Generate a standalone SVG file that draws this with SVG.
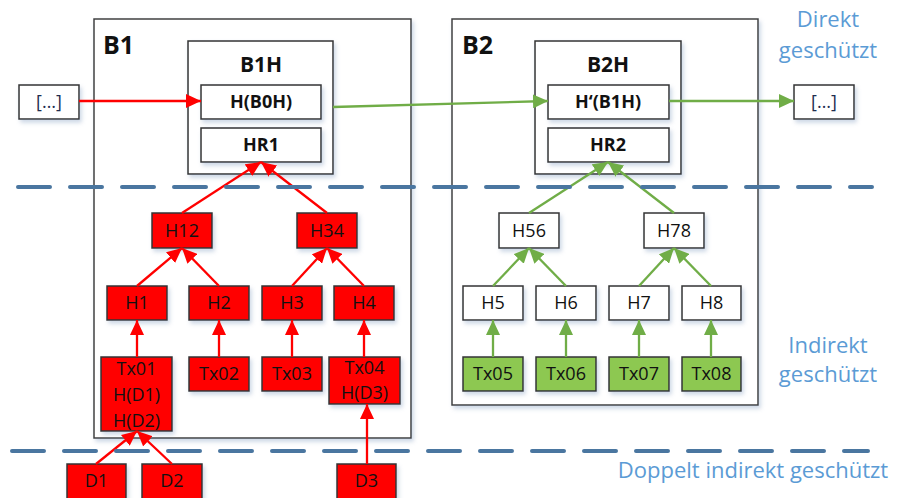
<svg xmlns="http://www.w3.org/2000/svg" width="897" height="498" viewBox="0 0 897 498">
  <defs>
    <filter id="shadow" x="-20%" y="-20%" width="150%" height="160%">
      <feDropShadow dx="2" dy="3" stdDeviation="2" flood-color="#8fa8c8" flood-opacity="0.45"/>
    </filter>
    <marker id="arrowRed" markerUnits="userSpaceOnUse" markerWidth="15" markerHeight="14" refX="15" refY="7" orient="auto">
      <path d="M0,0 L15,7 L0,14 z" fill="#ff0000"/>
    </marker>
    <marker id="arrowGreen" markerUnits="userSpaceOnUse" markerWidth="15" markerHeight="14" refX="15" refY="7" orient="auto">
      <path d="M0,0 L15,7 L0,14 z" fill="#70ad47"/>
    </marker>
  </defs>
  <style>
    text { font-family: "Open Sans", "Liberation Sans", sans-serif; text-anchor: middle; fill: #111; }
    .block { fill: #fff; stroke: #404040; stroke-width: 1.5; filter: url(#shadow); }
    .box { fill: #fff; stroke: #333; stroke-width: 1.5; filter: url(#shadow); }
    .red { fill: #ff0000; stroke: #333; stroke-width: 1.5; filter: url(#shadow); }
    .green { fill: #8dc851; stroke: #333; stroke-width: 1.5; filter: url(#shadow); }
    .lbl { font-size: 18px; }
    .bold { font-size: 18px; font-weight: 700; }
    .head { font-size: 21px; font-weight: 700; }
    .big { font-size: 25px; font-weight: 700; text-anchor: start; }
    .ell { font-size: 18px; fill: #1f2d50; }
    .zone { font-size: 22px; fill: #5b9bd5; }
    .sep { stroke: #4a76a0; stroke-width: 4; stroke-dasharray: 32 20; stroke-linecap: round; fill: none; }
    .cr { stroke: #ff0000; stroke-width: 2.3; fill: none; marker-end: url(#arrowRed); }
    .cg { stroke: #70ad47; stroke-width: 2.3; fill: none; marker-end: url(#arrowGreen); }
  </style>

  <rect width="897" height="498" fill="#fff"/>

  <!-- blocks -->
  <g id="B1">
    <rect class="block" x="94" y="19" width="317" height="419"/>
    <text class="big" x="103" y="54">B1</text>
  </g>
  <g id="B2">
    <rect class="block" x="452" y="19" width="306" height="386"/>
    <text class="big" x="462" y="54">B2</text>
  </g>

  <!-- block headers -->
  <g id="B1H">
    <rect class="box" x="188" y="41" width="145" height="133"/>
    <text class="head" x="261" y="72">B1H</text>
  </g>
  <g id="H_B0H">
    <rect class="box" x="201" y="85" width="120" height="34"/>
    <text class="bold" x="261" y="108">H(B0H)</text>
  </g>
  <g id="HR1">
    <rect class="box" x="201" y="128" width="120" height="34"/>
    <text class="bold" x="261" y="151">HR1</text>
  </g>
  <g id="B2H">
    <rect class="box" x="535" y="41" width="146" height="133"/>
    <text class="head" x="608" y="72">B2H</text>
  </g>
  <g id="H_B1H">
    <rect class="box" x="548" y="85" width="121" height="34"/>
    <text class="bold" x="608" y="108">H‘(B1H)</text>
  </g>
  <g id="HR2">
    <rect class="box" x="548" y="128" width="121" height="34"/>
    <text class="bold" x="608" y="151">HR2</text>
  </g>

  <!-- chain neighbours -->
  <g id="prev">
    <rect class="box" x="19" y="85" width="60" height="34"/>
    <text class="ell" x="49" y="108">[…]</text>
  </g>
  <g id="next">
    <rect class="box" x="794" y="85" width="60" height="34"/>
    <text class="ell" x="824" y="108">[…]</text>
  </g>

  <!-- B1 Merkle tree -->
  <g id="H12"><rect class="red" x="152" y="213" width="60" height="35"/><text class="lbl" x="182" y="237">H12</text></g>
  <g id="H34"><rect class="red" x="297" y="213" width="60" height="35"/><text class="lbl" x="327" y="237">H34</text></g>
  <g id="H1"><rect class="red" x="107" y="286" width="60" height="34"/><text class="lbl" x="137" y="309">H1</text></g>
  <g id="H2"><rect class="red" x="189" y="286" width="60" height="34"/><text class="lbl" x="219" y="309">H2</text></g>
  <g id="H3"><rect class="red" x="262" y="286" width="60" height="34"/><text class="lbl" x="292" y="309">H3</text></g>
  <g id="H4"><rect class="red" x="334" y="286" width="60" height="34"/><text class="lbl" x="364" y="309">H4</text></g>
  <g id="Tx01">
    <rect class="red" x="101" y="357" width="71" height="74"/>
    <text class="lbl" x="136.5" y="375">Tx01</text>
    <text class="lbl" x="136.5" y="401">H(D1)</text>
    <text class="lbl" x="136.5" y="427">H(D2)</text>
  </g>
  <g id="Tx02"><rect class="red" x="189" y="357" width="60" height="34"/><text class="lbl" x="219" y="380">Tx02</text></g>
  <g id="Tx03"><rect class="red" x="262" y="357" width="60" height="34"/><text class="lbl" x="292" y="380">Tx03</text></g>
  <g id="Tx04">
    <rect class="red" x="329" y="357" width="71" height="47"/>
    <text class="lbl" x="364.5" y="374">Tx04</text>
    <text class="lbl" x="364.5" y="399">H(D3)</text>
  </g>
  <g id="D1"><rect class="red" x="67" y="464" width="59" height="40"/><text class="lbl" x="96.5" y="487">D1</text></g>
  <g id="D2"><rect class="red" x="142" y="464" width="60" height="40"/><text class="lbl" x="172" y="487">D2</text></g>
  <g id="D3"><rect class="red" x="337" y="464" width="59" height="40"/><text class="lbl" x="366.5" y="487">D3</text></g>

  <!-- B2 Merkle tree -->
  <g id="H56"><rect class="box" x="499" y="213" width="60" height="35"/><text class="lbl" x="529" y="237">H56</text></g>
  <g id="H78"><rect class="box" x="644" y="213" width="60" height="35"/><text class="lbl" x="674" y="237">H78</text></g>
  <g id="H5"><rect class="box" x="463" y="286" width="60" height="34"/><text class="lbl" x="493" y="309">H5</text></g>
  <g id="H6"><rect class="box" x="536" y="286" width="60" height="34"/><text class="lbl" x="566" y="309">H6</text></g>
  <g id="H7"><rect class="box" x="609" y="286" width="60" height="34"/><text class="lbl" x="639" y="309">H7</text></g>
  <g id="H8"><rect class="box" x="682" y="286" width="59" height="34"/><text class="lbl" x="711.5" y="309">H8</text></g>
  <g id="Tx05"><rect class="green" x="463" y="357" width="60" height="34"/><text class="lbl" x="493" y="380">Tx05</text></g>
  <g id="Tx06"><rect class="green" x="536" y="357" width="60" height="34"/><text class="lbl" x="566" y="380">Tx06</text></g>
  <g id="Tx07"><rect class="green" x="609" y="357" width="60" height="34"/><text class="lbl" x="639" y="380">Tx07</text></g>
  <g id="Tx08"><rect class="green" x="682" y="357" width="59" height="34"/><text class="lbl" x="711.5" y="380">Tx08</text></g>

  <!-- connectors -->
  <g id="connectors">
    <line class="cr" x1="79" y1="101" x2="201" y2="101"/>
    <line class="cg" x1="333" y1="107" x2="548" y2="101"/>
    <line class="cg" x1="669" y1="101" x2="794" y2="101"/>

    <line class="cr" x1="182" y1="213" x2="261" y2="162"/>
    <line class="cr" x1="327" y1="213" x2="261" y2="162"/>
    <line class="cr" x1="137" y1="286" x2="182" y2="248"/>
    <line class="cr" x1="219" y1="286" x2="182" y2="248"/>
    <line class="cr" x1="292" y1="286" x2="327" y2="248"/>
    <line class="cr" x1="364" y1="286" x2="327" y2="248"/>
    <line class="cr" x1="137" y1="357" x2="137" y2="320"/>
    <line class="cr" x1="219" y1="357" x2="219" y2="320"/>
    <line class="cr" x1="292" y1="357" x2="292" y2="320"/>
    <line class="cr" x1="364" y1="357" x2="364" y2="320"/>
    <line class="cr" x1="96" y1="464" x2="137" y2="431"/>
    <line class="cr" x1="172" y1="464" x2="137" y2="431"/>
    <line class="cr" x1="367" y1="464" x2="367" y2="404"/>

    <line class="cg" x1="529" y1="213" x2="608" y2="162"/>
    <line class="cg" x1="674" y1="213" x2="608" y2="162"/>
    <line class="cg" x1="493" y1="286" x2="529" y2="248"/>
    <line class="cg" x1="566" y1="286" x2="529" y2="248"/>
    <line class="cg" x1="639" y1="286" x2="674" y2="248"/>
    <line class="cg" x1="711" y1="286" x2="674" y2="248"/>
    <line class="cg" x1="493" y1="357" x2="493" y2="320"/>
    <line class="cg" x1="566" y1="357" x2="566" y2="320"/>
    <line class="cg" x1="639" y1="357" x2="639" y2="320"/>
    <line class="cg" x1="711" y1="357" x2="711" y2="320"/>
  </g>

  <!-- protection zones -->
  <g id="zones">
    <line class="sep" x1="18" y1="187" x2="872" y2="187"/>
    <line class="sep" x1="12" y1="451" x2="868" y2="451"/>
    <text class="zone" x="828" y="27">Direkt</text>
    <text class="zone" x="828" y="58">geschützt</text>
    <text class="zone" x="828" y="353">Indirekt</text>
    <text class="zone" x="828" y="382">geschützt</text>
    <text class="zone" x="753" y="478">Doppelt indirekt geschützt</text>
  </g>
</svg>
